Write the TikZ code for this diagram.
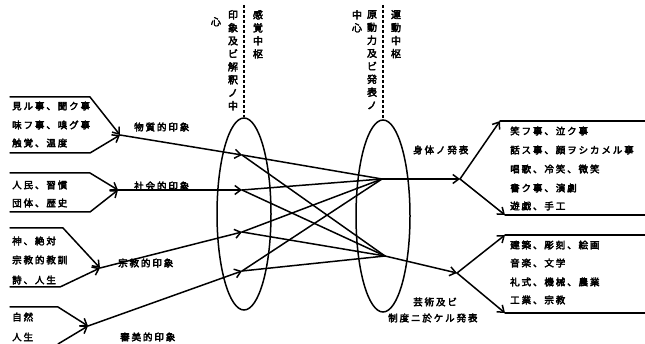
\documentclass[tikz,border=0pt]{standalone}
\usepackage{fontspec}
\newfontfamily\jp[FakeBold=3.5]{Noto Sans CJK JP}
\usetikzlibrary{arrows.meta,shapes.geometric}
\begin{document}
\begin{tikzpicture}[x=1pt,y=-1pt,
  ln/.style={line width=1.5pt, line cap=round, line join=round},
  arr/.style={ln, -{Straight Barb[length=6pt,width=9pt]}},
  txt/.style={font=\jp\fontsize{9.5}{11}\selectfont\addfontfeature{LetterSpace=20}, inner sep=0pt, anchor=west},
  vtxt/.style={font=\jp\fontsize{10}{13}\selectfont, inner sep=0pt, anchor=north, align=center},
  ell/.style={draw, ellipse, line width=1.5pt, inner sep=0pt, minimum width=54pt, minimum height=192pt},
  dsh/.style={line width=1.3pt, dash pattern=on 3pt off 2pt}]
\useasboundingbox (0,0) rectangle (645,344);

% ellipses and dashed lines
\node[ell] (E1) at (244,214) {};
\node[ell] (E2) at (383,216) {};
\coordinate (T1) at (244,5);
\coordinate (T2) at (383,5);
\draw[dsh] (T1) -- (E1.north);
\draw[dsh] (T2) -- (E2.north);

% vertical texts
\node[vtxt] (v1a) at (258,10) {感\\覚\\中\\枢};
\node[vtxt] (v1b) at (233,10) {印\\象\\及\\ビ\\解\\釈\\ノ\\中};
\node[vtxt] (v1c) at (216,17) {心};
\node[vtxt] (v2a) at (396,10) {運\\動\\中\\枢};
\node[vtxt] (v2b) at (372,10) {原\\動\\力\\及\\ビ\\発\\表\\ノ};
\node[vtxt] (v2c) at (357,10) {中\\心};

% left group 1
\coordinate (g1a) at (10,97); \coordinate (g1b) at (90,97);
\coordinate (g1c) at (10,153); \coordinate (g1d) at (90,153);
\coordinate (J1) at (120,135);
\draw[arr] (g1a) -- (g1b) -- (J1);
\draw[arr] (g1c) -- (g1d) -- (J1);
\node[txt] (t11) at (12,106) {見ル事、聞ク事};
\node[txt] (t12) at (12,125) {味フ事、嗅グ事};
\node[txt] (t13) at (12,143) {触覚、温度};
\node[txt] (l1) at (134,127) {物質的印象};

% left group 2
\coordinate (g2a) at (10,173); \coordinate (g2b) at (90,173);
\coordinate (g2c) at (10,212); \coordinate (g2d) at (90,212);
\coordinate (J2) at (118,190);
\draw[arr] (g2a) -- (g2b) -- (J2);
\draw[arr] (g2c) -- (g2d) -- (J2);
\node[txt] (t21) at (12,185) {人民、習慣};
\node[txt] (t22) at (12,203) {団体、歴史};
\node[txt] (l2) at (134,186) {社会的印象};

% left group 3
\coordinate (g3a) at (10,228); \coordinate (g3b) at (63,228);
\coordinate (g3c) at (10,287); \coordinate (g3d) at (60,287);
\coordinate (J3) at (100,268);
\draw[arr] (g3a) -- (g3b) -- (J3);
\draw[arr] (g3c) -- (g3d) -- (J3);
\node[txt] (t31) at (12,241) {神、絶対};
\node[txt] (t32) at (12,260) {宗教的教訓};
\node[txt] (t33) at (12,280) {詩、人生};
\node[txt] (l3) at (118,263) {宗教的印象};

% left group 4
\coordinate (g4a) at (10,307); \coordinate (g4b) at (58,307);
\coordinate (g4c) at (58,344);
\coordinate (J4) at (88,326);
\draw[arr] (g4a) -- (g4b) -- (J4);
\draw[arr] (g4c) -- (J4);
\node[txt] (t41) at (12,317) {自然};
\node[txt] (t42) at (12,337) {人生};
\node[txt] (l4) at (120,337) {審美的印象};

% into first ellipse
\coordinate (P1) at (242,155);
\coordinate (P2) at (242,190);
\coordinate (P3) at (242,232);
\coordinate (P4) at (242,271);
\draw[arr] (J1) -- (P1);
\draw[arr] (J2) -- (P2);
\draw[arr] (J3) -- (P3);
\draw[arr] (J4) -- (P4);

% crossing lines
\coordinate (U) at (382,179);
\coordinate (L) at (385,256);
\foreach \p in {P1,P2,P3,P4} {
  \draw[ln] (\p) -- (U);
  \draw[ln] (\p) -- (L);
}

% right upper
\coordinate (S1) at (460,179);
\coordinate (R1a) at (500,121); \coordinate (R1b) at (645,121);
\coordinate (R1c) at (505,215); \coordinate (R1d) at (645,215);
\draw[arr] (U) -- (S1);
\draw[arr] (S1) -- (R1a);
\draw[ln] (R1a) -- (R1b);
\draw[arr] (S1) -- (R1c);
\draw[ln] (R1c) -- (R1d);
\node[txt] (lu) at (413,150) {身体ノ発表};
\node[txt] (r11) at (510,131) {笑フ事、泣ク事};
\node[txt] (r12) at (510,150) {話ス事、顔ヲシカメル事};
\node[txt] (r13) at (510,169) {唱歌、冷笑、微笑};
\node[txt] (r14) at (510,188) {書ク事、演劇};
\node[txt] (r15) at (510,206) {遊戯、手工};

% right lower
\coordinate (S2) at (457,273);
\coordinate (R2a) at (505,235); \coordinate (R2b) at (645,235);
\coordinate (R2c) at (505,313); \coordinate (R2d) at (645,313);
\draw[arr] (L) -- (S2);
\draw[arr] (S2) -- (R2a);
\draw[ln] (R2a) -- (R2b);
\draw[arr] (S2) -- (R2c);
\draw[ln] (R2c) -- (R2d);
\node[txt] (r21) at (510,245) {建築、彫刻、絵画};
\node[txt] (r22) at (510,263) {音楽、文学};
\node[txt] (r23) at (510,282) {礼式、機械、農業};
\node[txt] (r24) at (510,300) {工業、宗教};
\node[txt] (ll1) at (413,302) {芸術及ビ};
\node[txt] (ll2) at (388,318) {制度ニ於ケル発表};
\end{tikzpicture}
\end{document}
